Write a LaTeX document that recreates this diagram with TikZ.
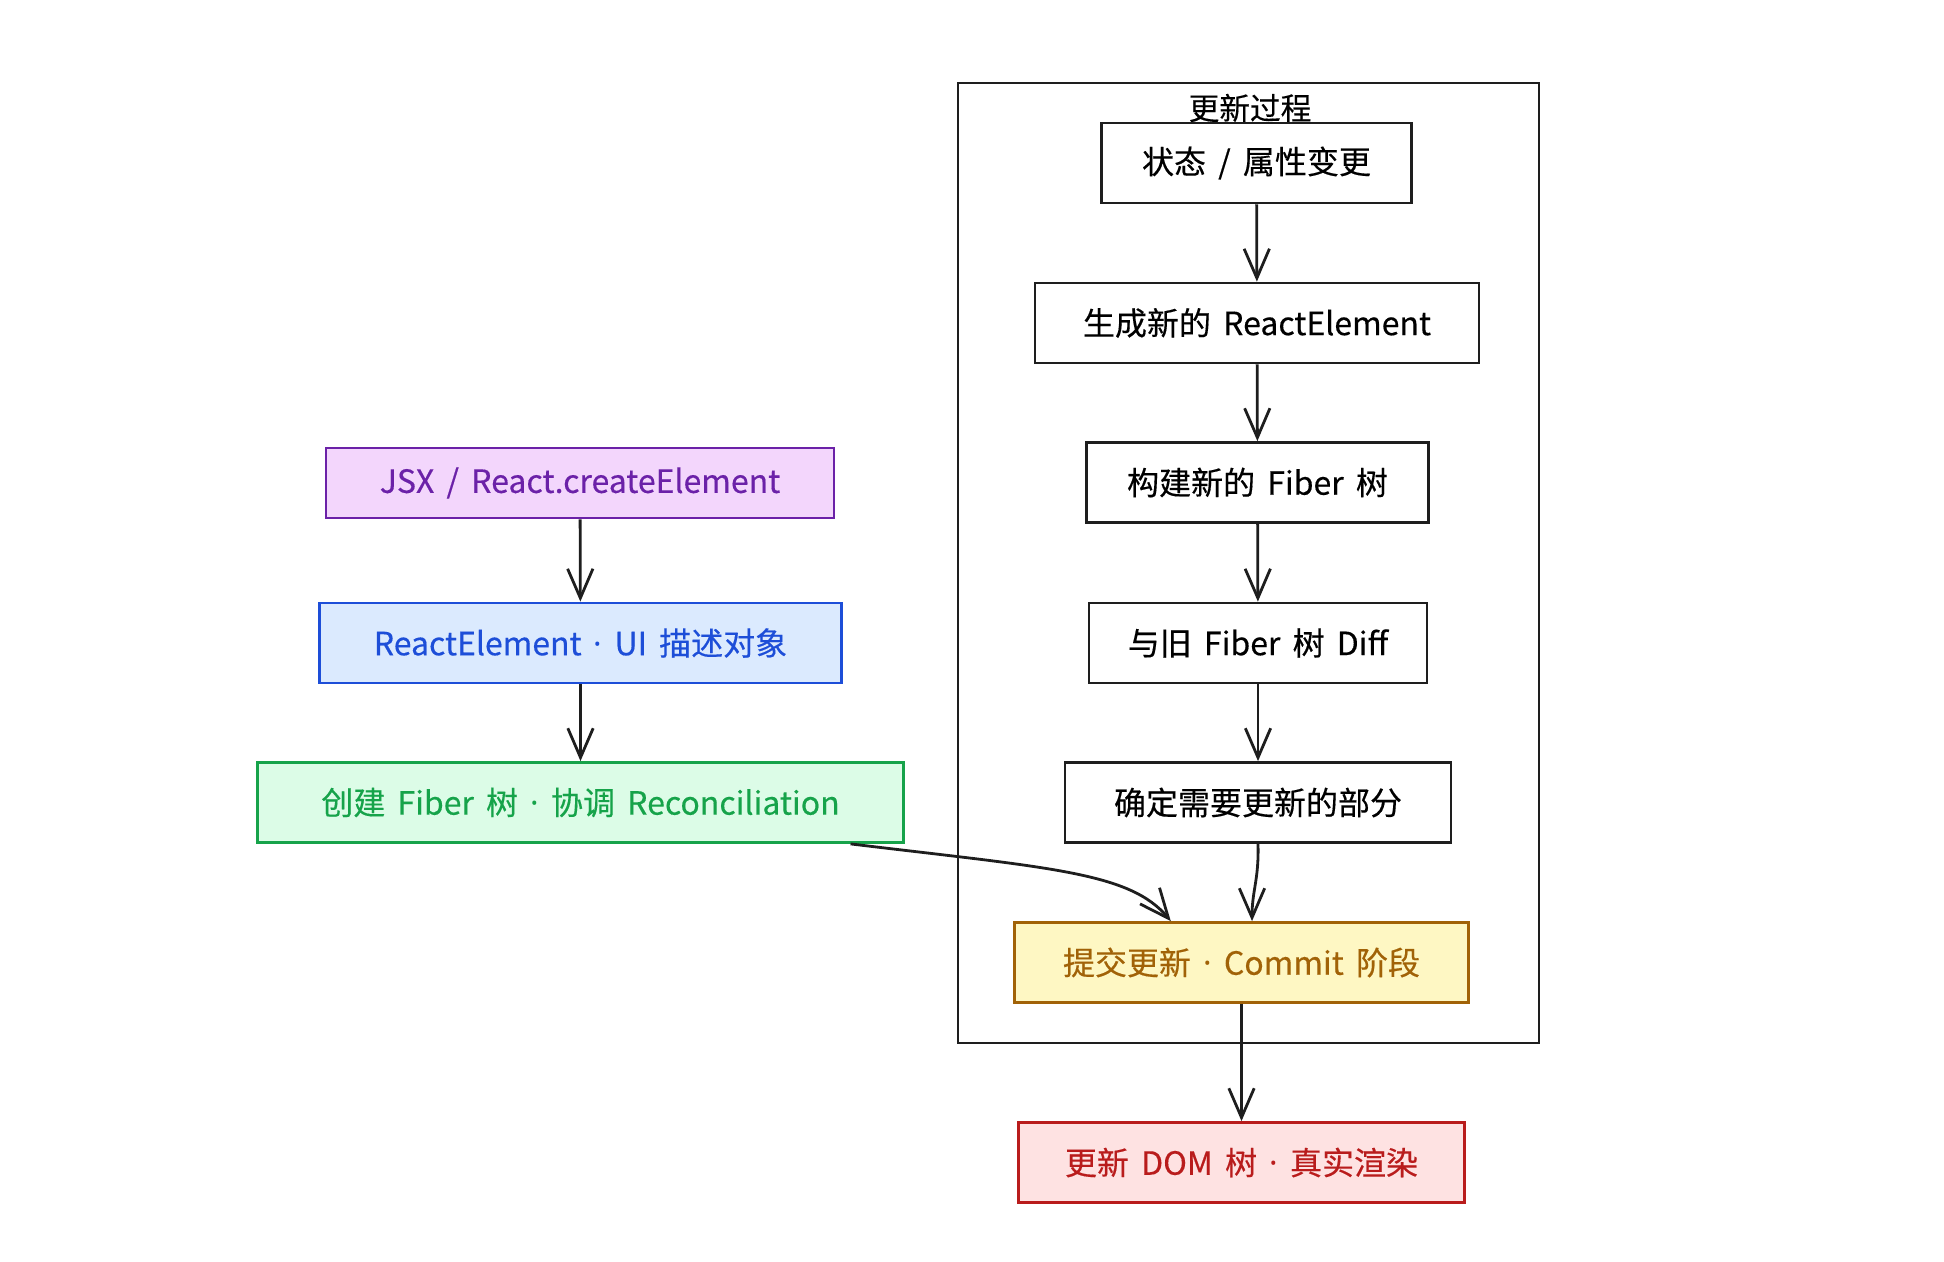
\documentclass[tikz,border=0pt]{standalone}
\usepackage{fontspec}
\setmainfont{Noto Sans CJK SC}[WordSpace=1.7,FakeBold=0.35]
\newfontfamily\dotfont{Noto Sans}
\usepackage{tikz}
\usetikzlibrary{arrows.meta}

\definecolor{inkgray}{HTML}{1E1E1E}
\definecolor{jsxline}{HTML}{6B21A8}
\definecolor{jsxfill}{HTML}{F3D6FC}
\definecolor{elemline}{HTML}{1D4ED8}
\definecolor{elemfill}{HTML}{DBEAFE}
\definecolor{fiberline}{HTML}{16A34A}
\definecolor{fiberfill}{HTML}{DCFCE7}
\definecolor{commitline}{HTML}{A16207}
\definecolor{commitfill}{HTML}{FEF7C3}
\definecolor{domline}{HTML}{B91C1C}
\definecolor{domfill}{HTML}{FEE2E2}
\newcommand{\middot}{{\dotfont\textbf{·}}}

\begin{document}
\begin{tikzpicture}[x=0.75pt,y=0.75pt,yscale=-1,
  stepbox/.style={draw=inkgray, line width=2.1pt, minimum height=60pt, inner sep=0pt, font=\fontsize{24}{29}\selectfont},
  flow/.style={draw=inkgray, line width=2.1pt, -{Straight Barb[length=22pt,width=19pt,line width=2.1pt]}}]
\useasboundingbox (0,0) rectangle (1944,1262);

%Frame
\draw [draw=inkgray, line width=2pt] (958,83) rectangle (1539,1043);
\node (title) at (1250,108) {\fontsize{23}{28}\selectfont 更新过程};

%Left column
\node [stepbox, draw=jsxline, fill=jsxfill, text=jsxline, minimum width=381pt, minimum height=52.5pt] (jsx) at (580,483) {JSX / React.createElement};
\node [stepbox, draw=elemline, fill=elemfill, text=elemline, minimum width=391pt] (relem) at (580.5,643) {ReactElement \middot{} UI 描述对象};
\node [stepbox, draw=fiberline, fill=fiberfill, text=fiberline, minimum width=484pt] (fiber) at (580.5,802.5) {创建 Fiber 树 \middot{} 协调 Reconciliation};

%Right column
\node [stepbox, minimum width=233pt] (state) at (1256.5,163) {状态 / 属性变更};
\node [stepbox, minimum width=333pt] (newelem) at (1257,323) {生成新的 ReactElement};
\node [stepbox, minimum width=256pt] (newfiber) at (1257.5,482.5) {构建新的 Fiber 树};
\node [stepbox, minimum width=253.5pt] (diff) at (1258,643) {与旧 Fiber 树 Diff};
\node [stepbox, minimum width=289.5pt] (mark) at (1258,802.5) {确定需要更新的部分};
\node [stepbox, draw=commitline, fill=commitfill, text=commitline, minimum width=341pt] (commit) at (1241.5,962.5) {提交更新 \middot{} Commit 阶段};
\node [stepbox, draw=domline, fill=domfill, text=domline, minimum width=335pt] (dom) at (1241.5,1162.5) {更新 DOM 树 \middot{} 真实渲染};

%Straight Lines
\draw [flow] (jsx) -- (relem);
\draw [flow] (relem) -- (fiber);
\draw [flow] (state) -- (newelem);
\draw [flow] (newelem) -- (newfiber);
\draw [flow] (newfiber) -- (diff);
\draw [flow] (diff) -- (mark);
\draw [flow] (commit) -- (dom);

%Curve Lines
\draw [flow] ([xshift=-40.5pt]fiber.south east) .. controls (1050,868) and (1130,872) .. ([xshift=118.5pt]commit.north west);
\draw [flow] (mark.south) .. controls (1259,880) and (1252,890) .. ([xshift=7.9pt]commit.north);

\end{tikzpicture}
\end{document}
